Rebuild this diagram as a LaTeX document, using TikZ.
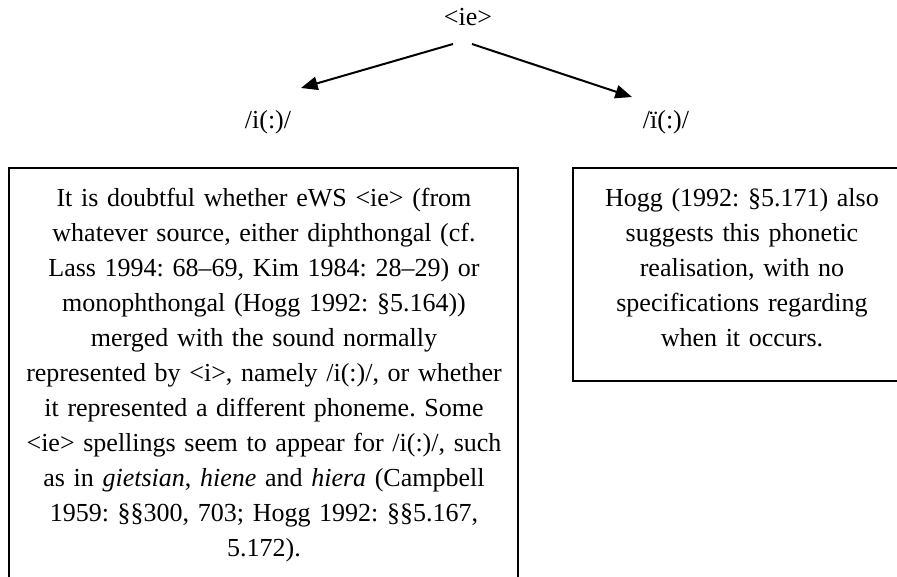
\documentclass[tikz,border=0pt]{standalone}
\usepackage{fontspec}
\setmainfont{Liberation Serif}
\usetikzlibrary{arrows.meta}
\frenchspacing

\tikzset{
    tag/.style={anchor=base, inner sep=0pt, font=\fontsize{19.5}{26.25}\selectfont},
    note/.style={anchor=base, inner sep=0pt, align=center, text width=375pt,
        font=\fontsize{19.5}{26.25}\selectfont\frenchspacing},
    frame/.style={line width=1.3pt},
    link/.style={line width=1.5pt, -{Triangle[length=12.5pt,width=10pt]}}
}

\begin{document}
\begin{tikzpicture}[x=0.75pt,y=-0.75pt]
    \useasboundingbox (0,0) rectangle (897,576);
    \clip (0,0) rectangle (897,576);

    % Spelling and its two readings
    \coordinate (S) at (468,25);
    \node (ie) at (S) [tag] {<ie>};
    \coordinate (L) at (268,128);
    \node (plain) at (L) [tag] {/i(:)/};
    \coordinate (R) at (666,128);
    \node (diaer) at (R) [tag] {/ï(:)/};

    % Arrows
    \coordinate (ieL) at ([shift={(-15,19)}]ie.base);
    \coordinate (ieR) at ([shift={(4,19)}]ie.base);
    \coordinate (tipL) at ([shift={(33,-40)}]plain.base);
    \coordinate (tipR) at ([shift={(-34,-31)}]diaer.base);
    \draw [link] (ieL) -- (tipL);
    \draw [link] (ieR) -- (tipR);

    % Boxes
    \draw [frame] (9,168) rectangle (518,600);
    \draw [frame] (573,168) rectangle (911,381);

    % Box texts
    \node (why) at (264,206) [note] {It is doubtful whether eWS <ie> (from\\
        whatever source, either diphthongal (cf.\\
        Lass 1994: 68–69, Kim 1984: 28–29) or\\
        monophthongal (Hogg 1992: §5.164))\\
        merged with the sound normally\\
        represented by <i>, namely /i(:)/, or whether\\
        it represented a different phoneme. Some\\
        <ie> spellings seem to appear for /i(:)/, such\\
        as in \textit{gietsian}, \textit{hiene} and \textit{hiera} (Campbell\\
        1959: §§300, 703; Hogg 1992: §§5.167,\\
        5.172).};
    \node (hogg) at (742,206) [note] {Hogg (1992: §5.171) also\\
        suggests this phonetic\\
        realisation, with no\\
        specifications regarding\\
        when it occurs.};
\end{tikzpicture}
\end{document}
